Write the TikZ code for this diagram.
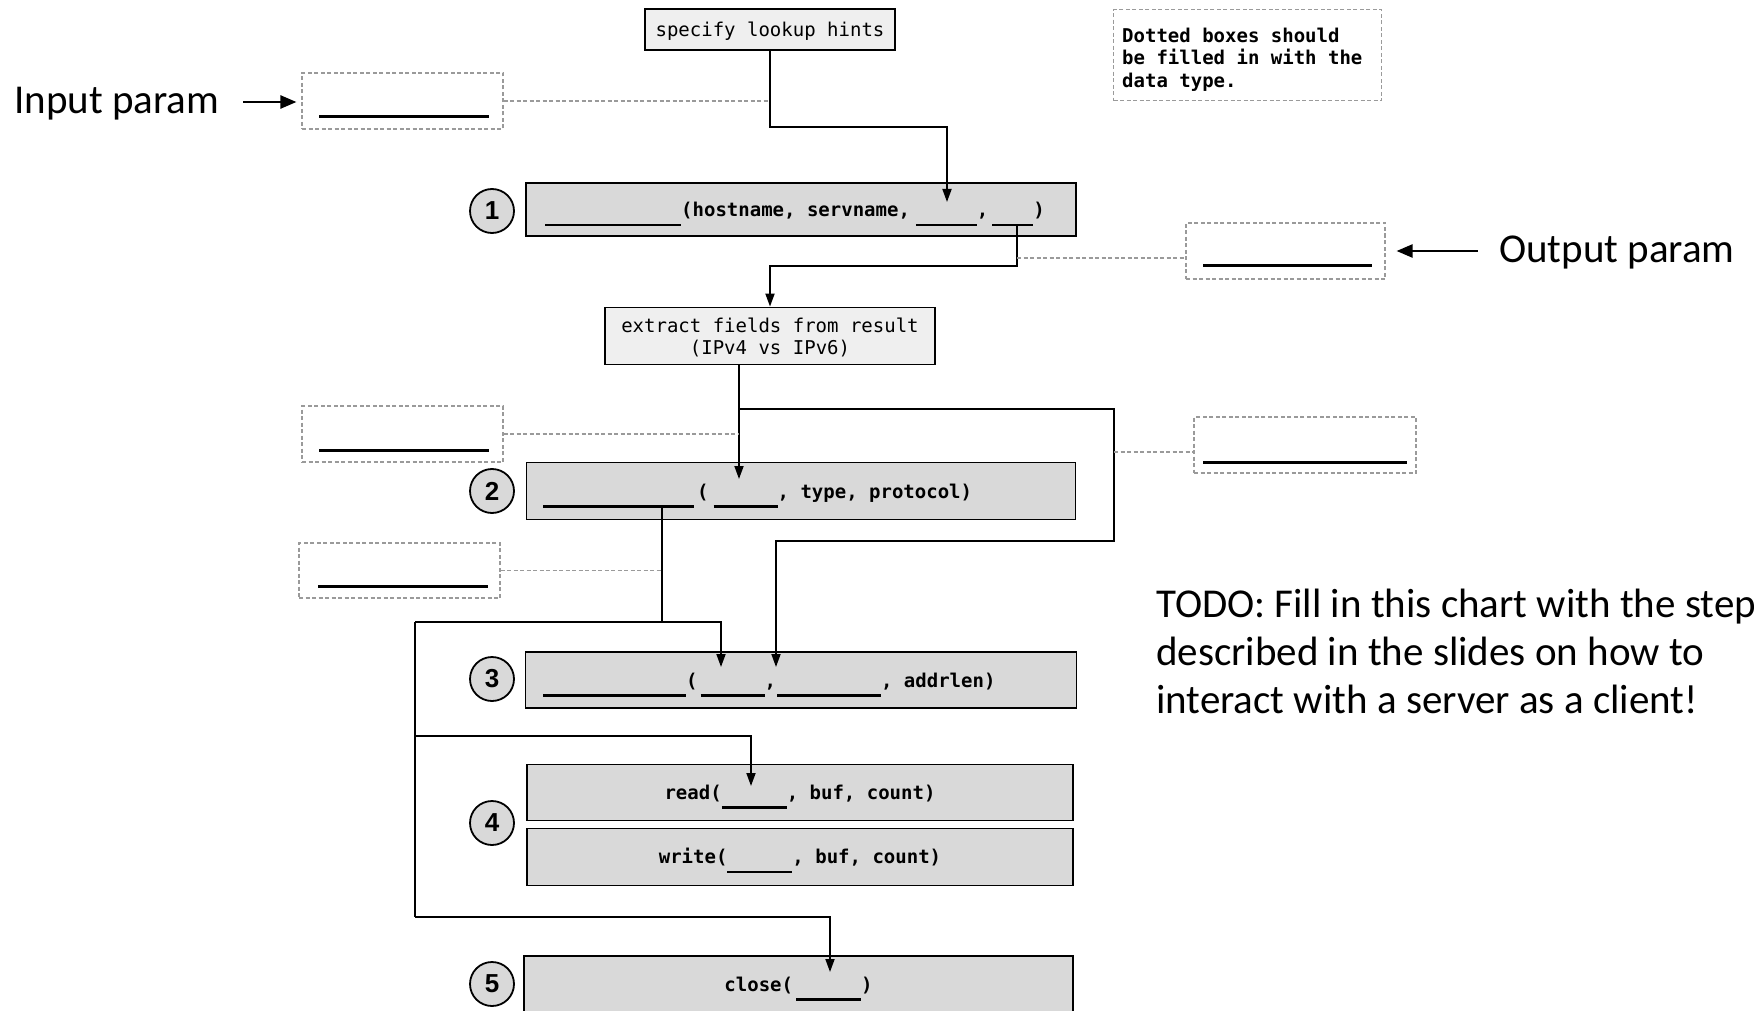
\documentclass[tikz,border=0pt]{standalone}
\usepackage{fontspec}
\setmainfont{Carlito}
\newfontfamily\codefont{DejaVu Sans Mono}
\newfontfamily\numfont{Liberation Sans}
\usetikzlibrary{arrows.meta,calc}

\definecolor{boxgray}{HTML}{D9D9D9}
\definecolor{hintgray}{HTML}{EFEFEF}
\definecolor{dashgray}{HTML}{9A9A9A}

% a blank to be filled in: a rule set below the baseline
\newcommand\blank[1]{\rule[-9.5pt]{#1pt}{2.5pt}}
\newcommand\codesize{\fontsize{19}{22.8}\selectfont}
% taller first line, so the text sits a little lower in its box
\newcommand\topstrut{\rule{0pt}{17.5pt}}

\begin{document}
\begin{tikzpicture}[x=1pt,y=-1pt,
  stepbox/.style={draw=black, line width=1.8pt, fill=boxgray, rectangle, inner sep=0pt},
  hintbox/.style={draw=black, line width=1.8pt, fill=hintgray, inner sep=0pt,
    font=\codefont\codesize, align=center},
  blankbox/.style={draw=dashgray, line width=1.1pt, dash pattern=on 4pt off 2.5pt, inner sep=0pt},
  code/.style={font=\codefont\bfseries\codesize, inner sep=0pt},
  num/.style={circle, draw=black, line width=1.8pt, fill=boxgray, minimum size=44pt,
    inner sep=0pt, font=\numfont\bfseries\fontsize{26}{26}\selectfont},
  conn/.style={line width=1.8pt, line join=miter},
  arr/.style={conn, -{Triangle[length=13pt,width=9pt]}},
  guide/.style={draw=dashgray, line width=1.1pt, dash pattern=on 4pt off 2.5pt},
  fillline/.style={line width=2.5pt},
  side/.style={font=\fontsize{41}{48}\selectfont, inner sep=0pt},
  pointer/.style={line width=2.4pt, -{Triangle[length=16pt,width=13pt]}}
]
\fill[white] (0,0) rectangle (1754,1011);
\useasboundingbox (0,0) rectangle (1754,1011);

% ---- top: hints and the note
\node[hintbox, minimum width=250pt, minimum height=41pt] (hints) at (770,29.5) {\topstrut specify lookup hints};
\node[blankbox, minimum width=268pt, minimum height=91pt, anchor=north west] (note) at (1113,9) {};
\node[code, anchor=north west, align=left] (notetext) at (1122,27.5)
  {Dotted boxes should\\be filled in with the\\data type.};

% ---- side labels
\node[side, anchor=base west] (inlabel) at (14,113.5) {Input param};
\node[side, anchor=base west] (outlabel) at (1499,262.7) {Output param};
\node[side, anchor=base west, align=left] (todo) at (1156,713.3)
  {TODO: Fill in this chart with the steps\\described in the slides on how to\\interact with a server as a client!};

% ---- dashed data-type boxes
\node[blankbox, minimum width=201pt, minimum height=56pt] (inp) at (402.5,101) {};
\node[blankbox, minimum width=199pt, minimum height=56pt] (out) at (1285.5,251) {};
\node[blankbox, minimum width=201pt, minimum height=56pt] (d2l) at (402.5,434) {};
\node[blankbox, minimum width=222pt, minimum height=56pt] (d2r) at (1305,445) {};
\node[blankbox, minimum width=201pt, minimum height=55pt] (d3l) at (399.5,570.5) {};

\draw[fillline] ($(inp.south west)+(18,-13)$) -- ($(inp.south east)+(-15,-13)$);
\draw[fillline] ($(out.south west)+(18,-14)$) -- ($(out.south east)+(-14,-14)$);
\draw[fillline] ($(d2l.south west)+(18,-12)$) -- ($(d2l.south east)+(-15,-12)$);
\draw[fillline] ($(d2r.south west)+(10,-11)$) -- ($(d2r.south east)+(-10,-11)$);
\draw[fillline] ($(d3l.south west)+(20,-12)$) -- ($(d3l.south east)+(-13,-12)$);

\draw[pointer] ($(inp.west)+(-58,1)$) -- ($(inp.west)+(-5,1)$);
\draw[pointer] ($(out.east)+(92,0)$) -- ($(out.east)+(11,0)$);

% ---- the calls
\node[stepbox, minimum width=550pt, minimum height=53pt] (call1) at (801,209.5) {};
\node[hintbox, minimum width=330pt, minimum height=57pt] (ext) at (770,336)
  {\topstrut extract fields from result\\(IPv4 vs IPv6)};
\node[stepbox, minimum width=549pt, minimum height=57pt] (call2) at (801,491) {};
\node[stepbox, minimum width=551pt, minimum height=56pt] (call3) at (801,680) {};
\node[stepbox, minimum width=546pt, minimum height=56pt] (rd) at (800,792.5) {};
\node[stepbox, minimum width=546pt, minimum height=57pt] (wr) at (800,857) {};
\node[stepbox, minimum width=549pt, minimum height=57pt] (cl) at (798.5,984.5) {};

\node[code, anchor=base west] (call1t) at (545,216.7)
  {\blank{136}(hostname, servname,\hspace{6pt}\blank{61},\hspace{4pt}\blank{41})};
\node[code, anchor=base west] (call2t) at (543,498.3)
  {\blank{151}\hspace{3pt}(\hspace{5pt}\blank{64}, type, protocol)};
\node[code, anchor=base west] (call3t) at (543,687)
  {\blank{143}(\hspace{3pt}\blank{64},\hspace{1pt}\blank{104}, addrlen)};
\node[code, anchor=base] (rdt) at (800,799.3) {read(\blank{65}, buf, count)};
\node[code, anchor=base] (wrt) at (800,863.8) {write(\blank{65}, buf, count)};
\node[code, anchor=base] (clt) at (798.5,991.3) {close(\hspace{3pt}\blank{65})};

\node[num] (n1) at (492,211) {1};
\node[num] (n2) at (492,491) {2};
\node[num] (n3) at (492,679) {3};
\node[num] (n4) at (492,823) {4};
\node[num] (n5) at (492,984) {5};

% ---- connectors
\coordinate (h1) at (947,202);
\draw[arr] (hints.south) -- ++(0,76) -| (h1);
\draw[guide] (inp.east) -- (inp.east -| hints.south);

\coordinate (o1) at (1017,225);
\draw[arr] (o1) -- ++(0,41) -| (ext.north);
\coordinate (o1g) at (1017,258);
\draw[guide] (o1g) -- (o1g -| out.west);

\coordinate (e0) at (739,364.5);
\coordinate (h2) at (739,479);
\draw[arr] (e0) -- (h2);
\coordinate (e1) at (739,409);
\coordinate (h3b) at (776,667);
\draw[arr] (e1) -| (1114,541) -| (h3b);
\draw[guide] (d2l.east) -- (d2l.east -| e0);
\coordinate (e1g) at (1114,452);
\draw[guide] (e1g) -- (e1g -| d2r.west);

\coordinate (f0) at (662,508);
\coordinate (f1) at (662,622);
\draw[conn] (f0) -- (f1);
\coordinate (trunk) at (415,622);
\coordinate (trunkmid) at (415,736);
\coordinate (trunkend) at (415,917);
\coordinate (h3a) at (721,667);
\coordinate (h4) at (751,786);
\coordinate (h5) at (830,972);
\draw[arr] (trunk) -| (h3a);
\draw[conn] (trunk) -- (trunkend);
\draw[arr] (trunkmid) -| (h4);
\draw[arr] (trunkend) -| (h5);
\draw[guide] (d3l.east) -- (d3l.east -| f0);
\end{tikzpicture}
\end{document}
